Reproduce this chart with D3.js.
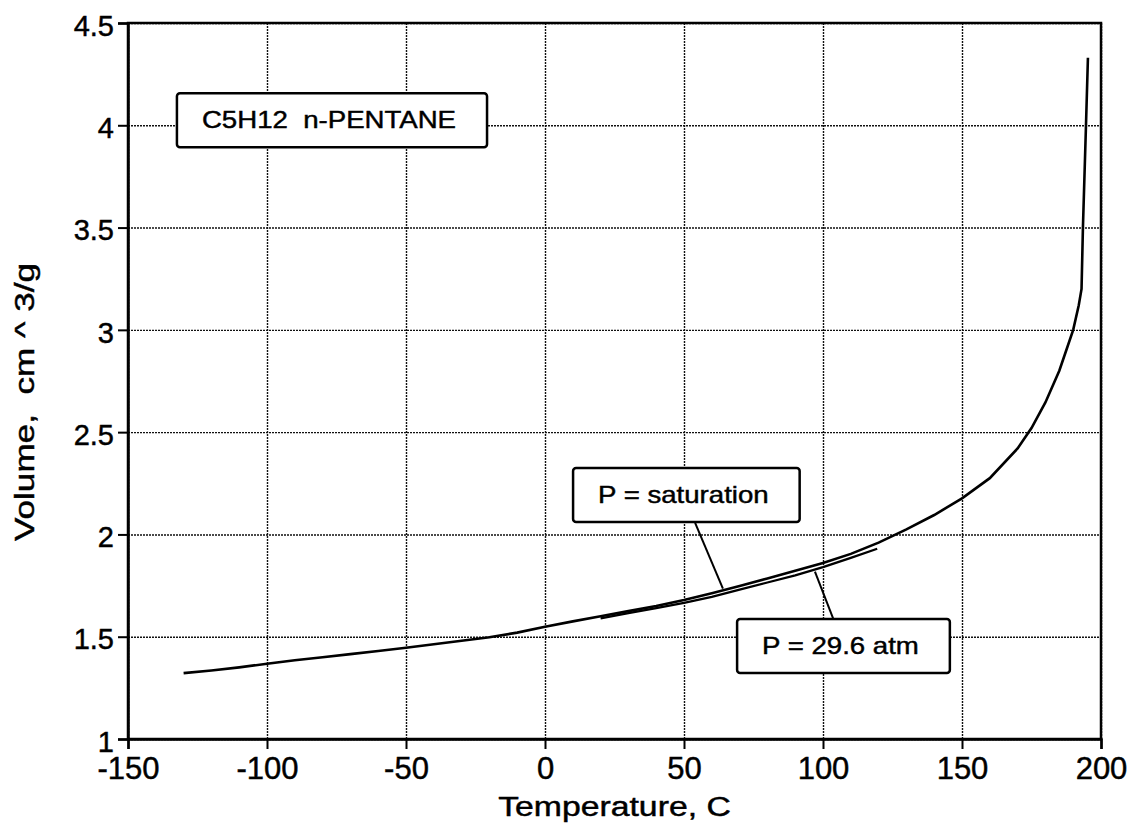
<!DOCTYPE html>
<html>
<head>
<meta charset="utf-8">
<script src="https://cdn.jsdelivr.net/npm/d3@7"></script>
<style>
  body { margin: 0; background: #fff; }
  text { font-family: "Liberation Sans", Arial, Helvetica, sans-serif; fill: #000; stroke: #000; stroke-width: 0.45px; }
</style>
</head>
<body>
<div id="vis"></div>
<script>
const FRAME_WIDTH = 1138;
const FRAME_HEIGHT = 834;
const MARGINS = {left: 128, right: 37, top: 23, bottom: 95};

const VIS_WIDTH = FRAME_WIDTH - MARGINS.left - MARGINS.right;
const VIS_HEIGHT = FRAME_HEIGHT - MARGINS.top - MARGINS.bottom;

// ticks
const xTicks = [-150, -100, -50, 0, 50, 100, 150, 200];
const yTicks = [1, 1.5, 2, 2.5, 3, 3.5, 4, 4.5];

// saturated liquid curve
const satT = [-130, -120, -110, -100, -90, -80, -70, -60, -50, -40, -30, -20, -10, 0,
  10, 20, 30, 40, 50, 60, 70, 80, 90, 100, 110, 120, 130, 140, 150, 160, 170, 175,
  180, 185, 188, 190, 192, 193, 193.5, 194.6, 195.3];
const satV = [1.322, 1.335, 1.350, 1.368, 1.385, 1.400, 1.415, 1.430, 1.446, 1.463, 1.480, 1.497, 1.520, 1.549,
  1.575, 1.600, 1.625, 1.650, 1.679, 1.712, 1.748, 1.785, 1.822, 1.860, 1.905, 1.960, 2.025, 2.095, 2.176, 2.275, 2.42, 2.52,
  2.645, 2.80, 2.92, 3.00, 3.12, 3.20, 3.50, 4.00, 4.33];

// compressed liquid at 29.6 atm
const p30T = [20, 30, 40, 50, 60, 70, 80, 90, 100, 110, 119.5];
const p30V = [1.590, 1.615, 1.640, 1.665, 1.695, 1.730, 1.765, 1.800, 1.840, 1.885, 1.930];

// label boxes: top-left corner in data units, leader line in data units
const labels = [
  {text: "C5H12  n-PENTANE", t: -132.4, v: 4.157, leader: null},
  {text: "P = saturation", t: 10.1, v: 2.325, leader: [[54, 2.056], [64, 1.735]]},
  {text: "P = 29.6 atm", t: 69.1, v: 1.587, leader: [[97.1, 1.818], [103.7, 1.587]]}
];

const svg = d3.select("#vis")
  .append("svg")
    .attr("width", FRAME_WIDTH)
    .attr("height", FRAME_HEIGHT);

const FRAME = svg.append("g")
    .attr("transform", "translate(" + MARGINS.left + "," + MARGINS.top + ")");

const x = d3.scaleLinear().domain([-150, 200]).range([0, VIS_WIDTH]);
const y = d3.scaleLinear().domain([1, 4.5]).range([VIS_HEIGHT, 0]);

// text in the scan is wider than Liberation Sans, stretch it a bit
function stretch(sel, k) {
  sel.each(function() {
    const w = this.getComputedTextLength();
    d3.select(this)
      .attr("textLength", w * k)
      .attr("lengthAdjust", "spacingAndGlyphs");
  });
}

// grid
FRAME.append("g")
  .attr("transform", "translate(0," + VIS_HEIGHT + ")")
  .call(d3.axisBottom(x).tickValues(xTicks).tickSize(-VIS_HEIGHT).tickFormat(""))
  .call(g => g.select(".domain").remove())
  .selectAll("line")
    .attr("stroke", "#111")
    .attr("stroke-width", 1.4)
    .attr("stroke-dasharray", "2,1");

FRAME.append("g")
  .call(d3.axisLeft(y).tickValues(yTicks).tickSize(-VIS_WIDTH).tickFormat(""))
  .call(g => g.select(".domain").remove())
  .selectAll("line")
    .attr("stroke", "#111")
    .attr("stroke-width", 1.4)
    .attr("stroke-dasharray", "2,1");

// frame
FRAME.append("rect")
  .attr("width", VIS_WIDTH)
  .attr("height", VIS_HEIGHT)
  .attr("fill", "none")
  .attr("stroke", "#000")
  .attr("stroke-width", 2.5);

// axes
const xAxis = FRAME.append("g")
  .attr("transform", "translate(0," + VIS_HEIGHT + ")")
  .call(d3.axisBottom(x).tickValues(xTicks).tickSize(10).tickPadding(8).tickFormat(d => d));
const yAxis = FRAME.append("g")
  .call(d3.axisLeft(y).tickValues(yTicks).tickSize(10).tickPadding(4).tickFormat(d => d));

[xAxis, yAxis].forEach(a => {
  a.select(".domain").attr("stroke-width", 2.5);
  a.selectAll(".tick line").attr("stroke-width", 2);
  a.selectAll("text")
    .attr("font-size", 31)
    .attr("font-family", "'Liberation Sans', Arial, sans-serif")
    .attr("fill", "#000");
});
yAxis.selectAll("text").attr("font-size", 29).attr("dy", "0.42em");

// curves
const line = d3.line()
  .x(d => x(d[0]))
  .y(d => y(d[1]));

FRAME.append("path")
  .datum(satT.map((t, i) => [t, satV[i]]))
  .attr("d", line)
  .attr("fill", "none")
  .attr("stroke", "#000")
  .attr("stroke-width", 2.6);

FRAME.append("path")
  .datum(p30T.map((t, i) => [t, p30V[i]]))
  .attr("d", line)
  .attr("fill", "none")
  .attr("stroke", "#000")
  .attr("stroke-width", 2.3);

// label boxes
labels.forEach(l => {
  if (l.leader) {
    FRAME.append("path")
      .datum(l.leader)
      .attr("d", line)
      .attr("stroke", "#000")
      .attr("stroke-width", 2);
  }
  const g = FRAME.append("g")
    .attr("transform", "translate(" + x(l.t) + "," + y(l.v) + ")");
  const box = g.append("rect")
    .attr("rx", 3)
    .attr("fill", "#fff")
    .attr("stroke", "#000")
    .attr("stroke-width", 2.5)
    .attr("height", 54);
  const txt = g.append("text")
    .attr("x", 25)
    .attr("y", 35)
    .attr("font-size", 24)
    .style("white-space", "pre")
    .text(l.text)
    .call(stretch, 1.15);
  box.attr("width", +txt.attr("textLength") + 56);
});

// axis titles
svg.append("text")
  .attr("x", MARGINS.left + VIS_WIDTH / 2)
  .attr("y", 816)
  .attr("text-anchor", "middle")
  .attr("font-size", 27)
  .text("Temperature, C")
  .call(stretch, 1.25);

svg.append("text")
  .attr("transform", "translate(34,402) rotate(-90)")
  .attr("text-anchor", "middle")
  .attr("font-size", 27)
  .style("white-space", "pre")
  .text("Volume,  cm ^ 3/g")
  .call(stretch, 1.3);
</script>
</body>
</html>
